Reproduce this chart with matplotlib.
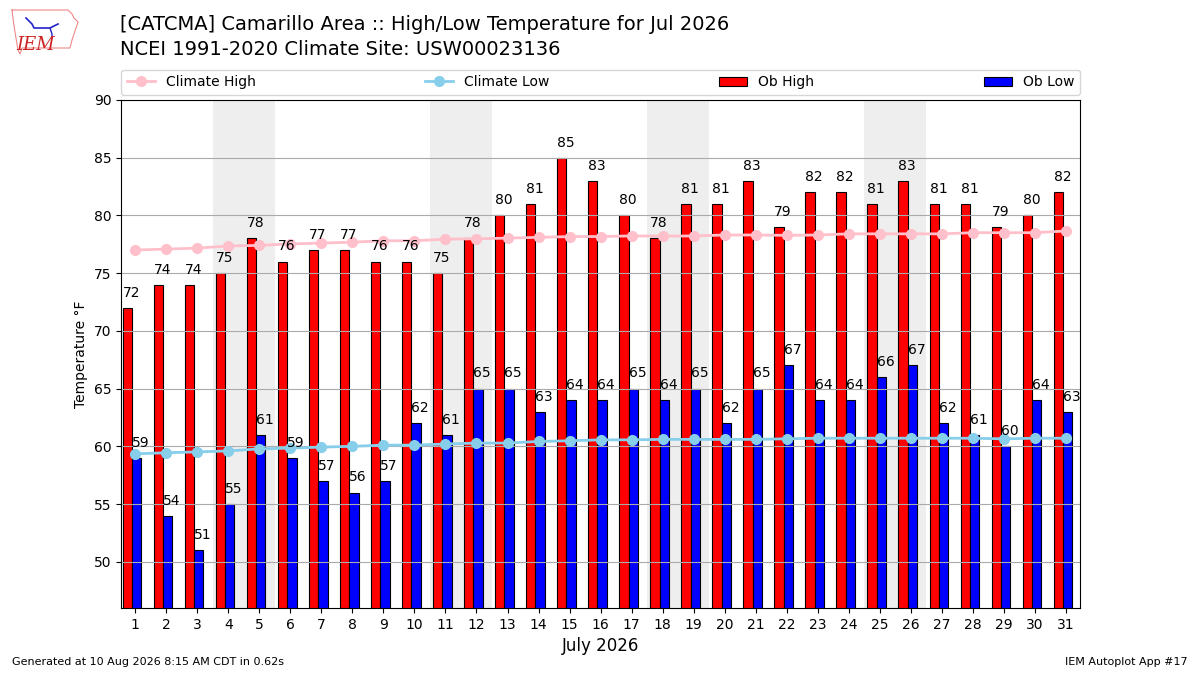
import matplotlib
matplotlib.use("Agg")
import matplotlib.pyplot as plt
import numpy as np

days = list(range(1, 32))
ob_high = [72, 74, 74, 75, 78, 76, 77, 77, 76, 76, 75, 78, 80, 81, 85, 83,
           80, 78, 81, 81, 83, 79, 82, 82, 81, 83, 81, 81, 79, 80, 82]
ob_low = [59, 54, 51, 55, 61, 59, 57, 56, 57, 62, 61, 65, 65, 63, 64, 64,
          65, 64, 65, 62, 65, 67, 64, 64, 66, 67, 62, 61, 60, 64, 63]
clim_high = [77.0, 77.08, 77.16, 77.35, 77.4, 77.53, 77.6, 77.68, 77.8, 77.8,
             77.94, 77.97, 78.03, 78.1, 78.16, 78.17, 78.22, 78.2, 78.22, 78.3,
             78.3, 78.27, 78.3, 78.4, 78.4, 78.4, 78.4, 78.5, 78.5, 78.5, 78.65]
clim_low = [59.35, 59.44, 59.52, 59.6, 59.78, 59.84, 59.93, 60.0, 60.1, 60.1,
            60.2, 60.28, 60.28, 60.42, 60.48, 60.56, 60.56, 60.6, 60.6, 60.6,
            60.6, 60.65, 60.7, 60.7, 60.7, 60.7, 60.7, 60.7, 60.65, 60.7, 60.7]
weekends = [(4, 5), (11, 12), (18, 19), (25, 26)]

fig = plt.figure(figsize=(12, 6.75), dpi=100)
ax = fig.add_axes([0.101, 0.0993, 0.799, 0.7527])

for a, b in weekends:
    ax.axvspan(a - 0.5, b + 0.5, color="#eeeeee", zorder=0, lw=0)

x = np.array(days)
ax.bar(x - 0.4, ob_high, width=0.3, align="edge", color="red",
       edgecolor="black", linewidth=0.8, label="Ob High", zorder=1)
ax.bar(x - 0.1, ob_low, width=0.3, align="edge", color="blue",
       edgecolor="black", linewidth=0.8, label="Ob Low", zorder=1)
ax.plot(x, clim_high, color="pink", marker="o", markersize=7, lw=2,
        label="Climate High", zorder=3)
ax.plot(x, clim_low, color="skyblue", marker="o", markersize=7, lw=2,
        label="Climate Low", zorder=3)

for xi, h, l in zip(x, ob_high, ob_low):
    ax.text(xi - 0.4, h + 0.7, f"{h}", ha="left", va="bottom", fontsize=10, zorder=4)
    ax.text(xi - 0.1, l + 0.7, f"{l}", ha="left", va="bottom", fontsize=10, zorder=4)

ax.set_xlim(0.55, 31.45)
ax.set_ylim(46, 90)
ax.set_xticks(days)
ax.set_yticks(range(50, 91, 5))
ax.grid(axis="y", color="#aaaaaa", lw=0.8)
ax.set_xlabel("July 2026", fontsize=12)
ax.set_ylabel("Temperature °F", fontsize=10)

handles, labels = ax.get_legend_handles_labels()
order = [labels.index(n) for n in ["Climate High", "Climate Low", "Ob High", "Ob Low"]]
ax.legend([handles[i] for i in order], [labels[i] for i in order],
          loc="lower left", bbox_to_anchor=(0, 1.01, 1, 0.05), mode="expand",
          ncol=4, fontsize=10, borderaxespad=0)

fig.text(0.1, 0.963, "[CATCMA] Camarillo Area :: High/Low Temperature for Jul 2026",
         fontsize=14, va="center", ha="left")
fig.text(0.1, 0.927, "NCEI 1991-2020 Climate Site: USW00023136",
         fontsize=14, va="center", ha="left")
fig.text(0.01, 0.015, "Generated at 10 Aug 2026 8:15 AM CDT in 0.62s", fontsize=8)
fig.text(0.99, 0.015, "IEM Autoplot App #17", fontsize=8, ha="right")

# simple logo
lax = fig.add_axes([8 / 1200, 1 - 58 / 675, 72 / 1200, 50 / 675])
lax.set_xlim(0, 72)
lax.set_ylim(50, 0)
lax.axis("off")
ox = [4, 60, 64, 66, 70, 68, 66, 64, 62, 14, 12, 10, 8, 6, 4]
oy = [2, 2, 6, 10, 14, 20, 26, 32, 40, 40, 46, 42, 30, 18, 2]
lax.plot(ox, oy, color="#e88", lw=0.8)
lax.plot([18, 24, 26, 42, 50], [10, 16, 20, 20, 16], color="#22c", lw=1.2)
lax.plot([42, 44, 44], [20, 26, 30], color="#22c", lw=1)
lax.text(28, 37, "IEM", fontsize=13, color="#cc2222", family="DejaVu Serif",
         style="italic", ha="center", va="center")

fig.savefig("out.png", dpi=100)
